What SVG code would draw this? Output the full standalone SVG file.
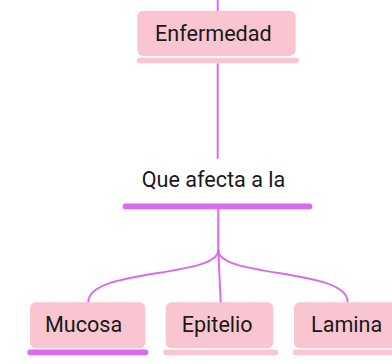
<svg xmlns="http://www.w3.org/2000/svg" width="392" height="364" viewBox="0 0 392 364">
<style>
.box{fill:#f9c5d1}
.bar{fill:#f9c5d1}
.bar2{fill:#d86aeb}
.t{font-family:Roboto,"Liberation Sans",sans-serif;font-size:21.6px;fill:#1a1a1a}
.ln{stroke:#d86aeb;stroke-width:2;fill:none;stroke-linecap:round}
</style>
<rect width="392" height="364" fill="#ffffff"/>
<g id="connectors">
<path class="ln" d="M217.7,0 V11"/>
<path class="ln" d="M217.7,64 V158"/>
<path class="ln" d="M218.3,209 V250"/>
<path class="ln" d="M218.3,250 C218.3,278 88.3,268 88.3,302"/>
<path class="ln" d="M218.3,250 L220.7,302"/>
<path class="ln" d="M218.3,250 C218.3,278 347.7,268 347.7,302"/>
</g>
<g id="n-enfermedad">
<rect class="box" x="137.3" y="10.7" width="158.4" height="45.3" rx="6"/>
<rect class="bar" x="136.7" y="57.7" width="162.3" height="5.6" rx="2.8"/>
<text class="t" x="155" y="41">Enfermedad</text>
</g>
<g id="n-que">
<text class="t" x="141.7" y="187">Que afecta a la</text>
<rect class="bar2" x="122.7" y="203.6" width="189.6" height="5.6" rx="2.8"/>
</g>
<g id="n-mucosa">
<rect class="box" x="30" y="302.3" width="115.3" height="46" rx="6"/>
<rect class="bar2" x="27.3" y="349.6" width="121" height="5.6" rx="2.8"/>
<text class="t" x="45" y="332.3">Mucosa</text>
</g>
<g id="n-epitelio">
<rect class="box" x="165.7" y="302.3" width="107.6" height="46" rx="6"/>
<rect class="bar" x="163.3" y="349.8" width="115" height="5.4" rx="2.7"/>
<text class="t" x="181.7" y="332.3">Epitelio</text>
</g>
<g id="n-lamina">
<rect class="box" x="294" y="302.3" width="110" height="46" rx="6"/>
<rect class="bar" x="292.7" y="349.8" width="115" height="5.4" rx="2.7"/>
<text class="t" x="311" y="332.3">Lamina</text>
</g>
</svg>
